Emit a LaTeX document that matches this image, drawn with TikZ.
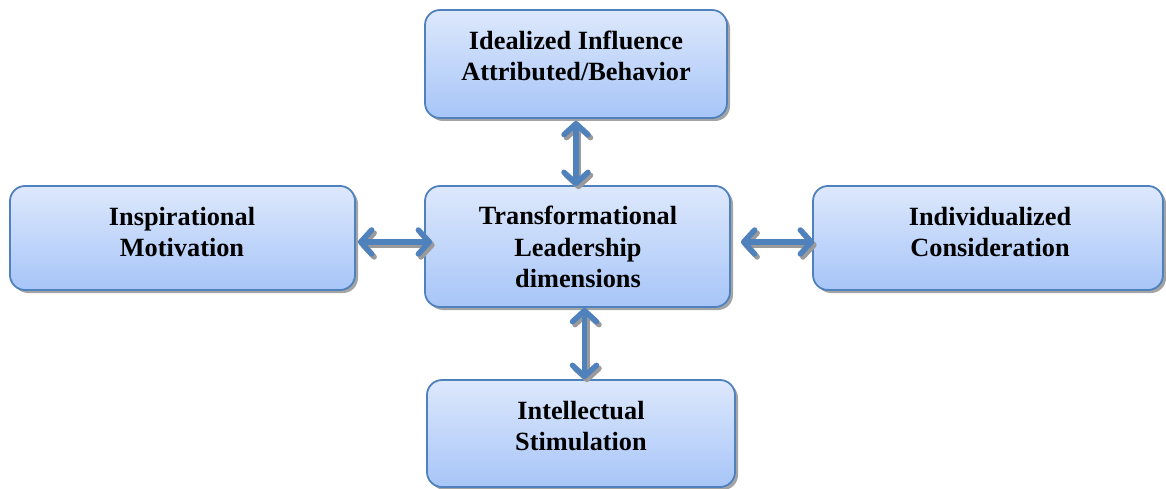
\documentclass[tikz,border=0pt]{standalone}
\usepackage{fontspec}
\setmainfont{Liberation Serif}
\usetikzlibrary{arrows.meta,shadows}
\definecolor{boxline}{HTML}{4F81BD}
\definecolor{boxtop}{HTML}{DDE8FC}
\definecolor{boxbottom}{HTML}{A7C5F8}
\definecolor{arrowblue}{HTML}{4F81BD}
\definecolor{shadowgray}{HTML}{9A9A9A}
\tikzset{
  dimbox/.style={draw=boxline, line width=1.8pt, rounded corners=15pt,
    top color=boxtop, bottom color=boxbottom,
    drop shadow={shadow xshift=3pt, shadow yshift=-3pt, fill=shadowgray, opacity=0.9},
    inner sep=0pt},
  dimtext/.style={font=\fontsize{26.3}{31.5}\selectfont\bfseries, align=center, inner sep=0pt},
  twoheads/.style={line width=5.5pt,
    {Straight Barb[length=11pt,width=24pt,round]}-{Straight Barb[length=11pt,width=24pt,round]}},
  biarrow/.style={twoheads, draw=arrowblue},
  biarrowshadow/.style={twoheads, draw=shadowgray, transform canvas={xshift=2.5pt,yshift=-3pt}}
}
% a two-way connector with its gray shadow underneath
\newcommand\twowaylink[2]{%
  \draw[biarrowshadow] #1 -- #2;
  \draw[biarrow] #1 -- #2;}
\begin{document}
\begin{tikzpicture}[x=1pt,y=-1pt]
  \useasboundingbox (0,0) rectangle (1166,489);
  % boxes
  \node[dimbox, minimum width=302pt, minimum height=108pt] (ii) at (576,64) {};
  \node[dimbox, minimum width=305pt, minimum height=121pt] (tl) at (577.5,246.5) {};
  \node[dimbox, minimum width=345pt, minimum height=104pt] (im) at (182.5,238) {};
  \node[dimbox, minimum width=350pt, minimum height=104pt] (ic) at (988,238) {};
  \node[dimbox, minimum width=308pt, minimum height=107pt] (is) at (581,433.5) {};
  % labels
  \node[dimtext] (ii-t) at (576,56) {Idealized Influence\\Attributed/Behavior};
  \node[dimtext] (tl-t) at (578,247) {Transformational\\Leadership\\dimensions};
  \node[dimtext] (im-t) at (182,232) {Inspirational\\Motivation};
  \node[dimtext] (ic-t) at (990,232) {Individualized\\Consideration};
  \node[dimtext] (is-t) at (581,426) {Intellectual\\Stimulation};
  % two-way connectors
  \twowaylink{([yshift=-2pt]ii.south)}{([yshift=-1pt]ii.south |- tl.north)}
  \twowaylink{([xshift=7pt]tl.south)}{([xshift=7pt]tl.south |- is.north)}
  \twowaylink{([xshift=2pt,yshift=-4pt]im.east)}{([xshift=8pt,yshift=-4pt]tl.west |- im.east)}
  \twowaylink{([xshift=10pt,yshift=-4pt]tl.east |- ic.west)}{([xshift=2pt,yshift=-4pt]ic.west)}
\end{tikzpicture}
\end{document}
